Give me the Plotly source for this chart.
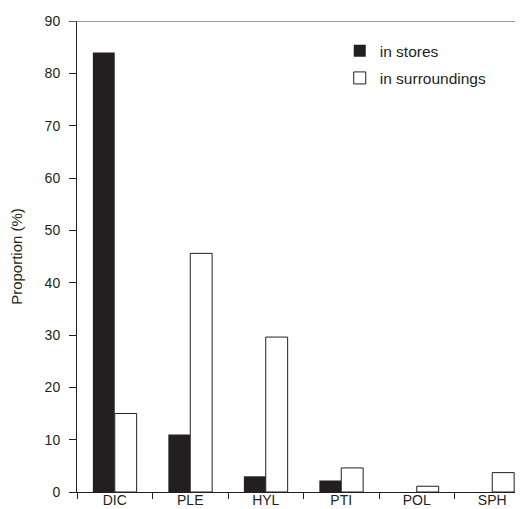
import plotly.graph_objects as go

categories = ["DIC", "PLE", "HYL", "PTI", "POL", "SPH"]
in_stores = [84, 11, 3, 2.2, 0, 0]
in_surroundings = [15, 45.6, 29.6, 4.6, 1.1, 3.7]
y_ticks = [0, 10, 20, 30, 40, 50, 60, 70, 80, 90]

INK = "#231f20"

fig = go.Figure()
fig.add_trace(go.Bar(
    x=categories, y=in_stores, name="in stores", legendgroup="a",
    marker=dict(color=INK, line=dict(color=INK, width=0)),
))
fig.add_trace(go.Bar(
    x=categories, y=in_surroundings, name="in surroundings", legendgroup="b",
    marker=dict(color="white", line=dict(color=INK, width=1)),
))

fig.add_shape(type="line", xref="paper", yref="y", x0=-0.016, x1=0.995, y0=90, y1=90,
              line=dict(color="#777777", width=1.5))

fig.update_layout(
    width=523, height=509,
    margin=dict(l=69, r=1, t=13, b=25),
    paper_bgcolor="white", plot_bgcolor="white",
    font=dict(family="Liberation Sans, Arial, sans-serif", size=14, color=INK),
    barmode="group", bargap=0.42, bargroupgap=0,
    showlegend=True,
    legend=dict(x=0.58, y=0.972, xanchor="left", yanchor="top",
                bgcolor="rgba(0,0,0,0)", font=dict(size=15.5), tracegroupgap=4),
    xaxis=dict(type="category", showline=True, linecolor=INK, linewidth=1,
               ticks="outside", tickson="boundaries", ticklen=6, tickcolor=INK,
               ticklabelstandoff=-5,
               showgrid=False, zeroline=False, range=[-0.5, 5.5]),
    yaxis=dict(range=[0, 90], tickvals=y_ticks, showline=True, linecolor=INK,
               linewidth=1, ticks="outside", ticklen=7, tickcolor=INK,
               ticklabelstandoff=6,
               showgrid=False, zeroline=False,
               title=dict(text="Proportion (%)", standoff=18, font=dict(size=15))),
)

fig.write_html("out.html")
